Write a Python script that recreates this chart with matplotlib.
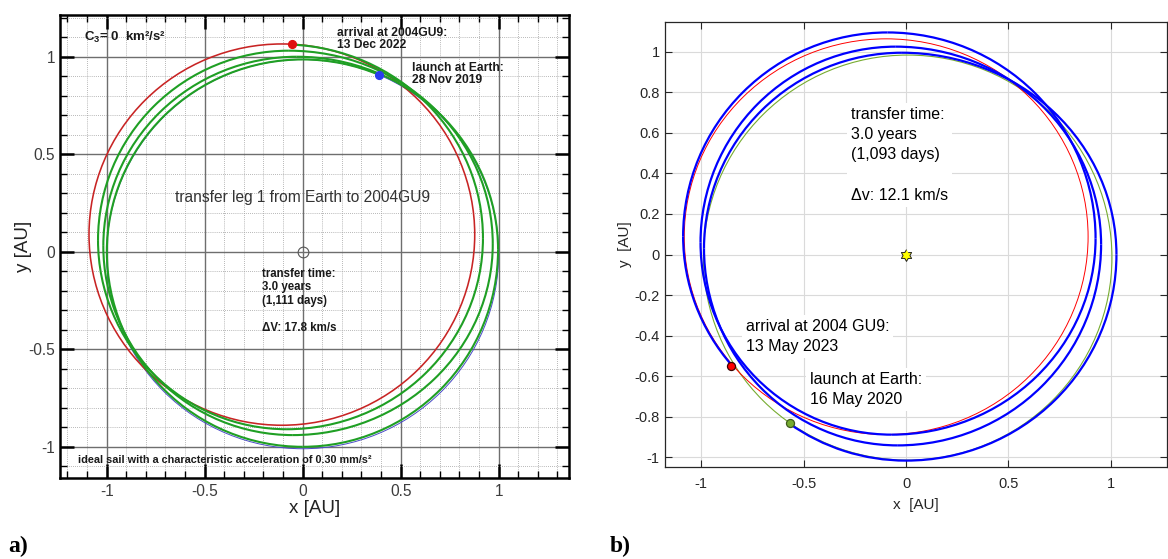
import numpy as np
import matplotlib
matplotlib.use("Agg")
import matplotlib.pyplot as plt
from matplotlib.patches import Arc, Ellipse
from matplotlib.ticker import FixedLocator, FixedFormatter, MultipleLocator
from matplotlib import font_manager

plt.rcParams['font.family'] = ['Liberation Sans', 'DejaVu Sans']
plt.rcParams['mathtext.fontset'] = 'custom'
plt.rcParams['mathtext.rm'] = 'Liberation Sans:bold'
plt.rcParams['mathtext.it'] = 'Liberation Sans:bold:italic'
plt.rcParams['mathtext.bf'] = 'Liberation Sans:bold'

# ======================= data : panel a) =======================
a_ticks = [-1, -0.5, 0, 0.5, 1]
a_ticklabels = ['-1', '-0.5', '0', '0.5', '1']
# orbits: centre x, centre y, width, height  [AU]
a_earth_orbit = [0.000, -0.012, 2.000, 1.996]
a_gu9_orbit = [-0.106, 0.088, 1.968, 1.955]
# transfer trajectory: successive extreme points (right, top, left, bottom, ...)
a_traj_x = [1.000, 0.000, -0.999, 0.000, 0.997, -0.030, -1.017, -0.050,
            0.970, -0.070, -1.044, -0.080, 0.920, -0.100]
a_traj_y = [-0.010, 0.986, 0.000, -1.000, 0.010, 1.000, 0.030, -0.940,
            0.040, 1.031, 0.060, -0.910, 0.070, 1.063]
a_launch = [0.392, 0.908]
a_arrival = [-0.055, 1.065]
a_sun = [0.0, 0.0]
a_title = 'transfer leg 1 from Earth to 2004GU9'
a_c3 = 'C$_3$= 0  km²/s²'
a_arrival_txt = 'arrival at 2004GU9:\n13 Dec 2022'
a_launch_txt = 'launch at Earth:\n28 Nov 2019'
a_info_txt = 'transfer time:\n3.0 years\n(1,111 days)\n\nΔV: 17.8 km/s'
a_sail_txt = 'ideal sail with a characteristic acceleration of 0.30 mm/s²'

# ======================= data : panel b) =======================
b_xticks = [-1, -0.5, 0, 0.5, 1]
b_xticklabels = ['-1', '-0.5', '0', '0.5', '1']
b_yticks = [-1, -0.8, -0.6, -0.4, -0.2, 0, 0.2, 0.4, 0.6, 0.8, 1]
b_yticklabels = ['-1', '-0.8', '-0.6', '-0.4', '-0.2', '0', '0.2', '0.4', '0.6', '0.8', '1']
b_earth_orbit = [0.008, -0.015, 1.996, 1.997]
b_gu9_orbit = [-0.097, 0.088, 1.973, 1.951]
# transfer trajectory: successive extreme points (left, bottom, right, top, ...)
b_traj_x = [-0.990, 0.000, 1.028, -0.020, -0.987, -0.040, 0.953, -0.050,
            -1.004, -0.070, 0.926, -0.090, -1.089, -0.100]
b_traj_y = [-0.015, -1.016, 0.000, 0.995, 0.030, -0.941, 0.050, 1.025,
            0.060, -0.888, 0.080, 1.095, 0.090, -0.888]
b_launch = [-0.569, -0.831]
b_arrival = [-0.856, -0.552]
b_sun = [0.0, 0.0]
b_info_txt = 'transfer time:\n3.0 years\n(1,093 days)\n\nΔv: 12.1 km/s'
b_arrival_txt = 'arrival at 2004 GU9:\n13 May 2023'
b_launch_txt = 'launch at Earth:\n16 May 2020'


def draw_spiral(ax, xs, ys, q0, start, end, **kw):
    """Connect successive extreme points with quarter-ellipse arcs."""
    n = len(xs) - 1
    for i in range(n):
        q = (q0 + i) % 4  # 0 right->top, 1 top->left, 2 left->bottom, 3 bottom->right
        x1, y1, x2, y2 = xs[i], ys[i], xs[i + 1], ys[i + 1]
        if q in (0, 2):
            cx, cy = x2, y1
        else:
            cx, cy = x1, y2
        w = 2 * abs(x1 - x2)
        h = 2 * abs(y1 - y2)
        t1, t2 = 90.0 * q, 90.0 * (q + 1)
        if i == 0:
            t1 = np.degrees(np.arctan2(start[1] - cy, start[0] - cx)) % 360
        if i == n - 1:
            t2 = np.degrees(np.arctan2(end[1] - cy, end[0] - cx)) % 360
        ax.add_patch(Arc((cx, cy), w, h, theta1=t1, theta2=t2, **kw))


fig = plt.figure(figsize=(11.68, 5.59), dpi=100)
fig.patch.set_facecolor('white')

# ======================= panel a) =======================
axa = fig.add_axes([60 / 1168, 1 - 478 / 559, 509 / 1168, 463 / 559])
axa.set_xlim(-1.238, 1.359)
axa.set_ylim(-1.16, 1.214)
for axis in (axa.xaxis, axa.yaxis):
    axis.set_major_locator(FixedLocator(a_ticks))
    axis.set_major_formatter(FixedFormatter(a_ticklabels))
    axis.set_minor_locator(MultipleLocator(0.1))
axa.set_axisbelow(True)
axa.grid(which='major', color='#6e6e6e', lw=1.0, ls='-')
axa.grid(which='minor', color='#a0a0a0', lw=0.6, ls=(0, (1, 1.5)))
axa.tick_params(which='both', direction='in', top=True, right=True, color='black')
axa.tick_params(which='major', length=10, width=1.8, labelsize=11.2, labelcolor='#3c3c3c')
axa.tick_params(axis='x', which='major', pad=4)
axa.tick_params(axis='y', which='major', pad=3.6)
axa.tick_params(which='minor', length=5, width=1.0)
for s in axa.spines.values():
    s.set_linewidth(1.8)
    s.set_color('black')

axa.add_patch(Ellipse(a_earth_orbit[:2], a_earth_orbit[2], a_earth_orbit[3],
                      fill=False, ec='#4a4ac8', lw=0.7, zorder=2))
axa.add_patch(Ellipse(a_gu9_orbit[:2], a_gu9_orbit[2], a_gu9_orbit[3],
                      fill=False, ec='#c82424', lw=1.15, zorder=2.2))
draw_spiral(axa, a_traj_x, a_traj_y, 0, a_launch, a_arrival,
            color='#1f9f24', lw=1.5, zorder=2.5)
axa.plot(a_sun[0], a_sun[1], 'o', mfc='none', mec='#555555', mew=0.8, ms=7.7, zorder=4)
axa.plot(a_arrival[0], a_arrival[1], 'o', color='#e01010', ms=5.6, zorder=4)
axa.plot(a_launch[0], a_launch[1], 'o', color='#2a3cf0', ms=5.6, zorder=4)

axa.text(-1.117, 1.079, a_c3, fontsize=9.5, fontweight='bold', color='#1a1a1a', va='baseline')
axa.text(0.177, 1.150, a_arrival_txt, fontsize=8.7, fontweight='bold', color='#1a1a1a',
         va='top', linespacing=0.98)
axa.text(0.559, 0.971, a_launch_txt, fontsize=8.7, fontweight='bold', color='#1a1a1a',
         va='top', linespacing=0.98)
axa.text(0.0, 0.256, a_title, fontsize=11.2, color='#333333', ha='center', va='baseline')
axa.text(-0.206, -0.082, a_info_txt, fontsize=8.3, fontweight='bold', color='#1a1a1a',
         va='top', linespacing=1.17)
try:
    font_manager.findfont(font_manager.FontProperties(family='Liberation Sans Narrow',
                                                      weight='bold'),
                          fallback_to_default=False)
    sail_family, sail_size = ['Liberation Sans Narrow'], 9.4
except Exception:
    sail_family, sail_size = ['Liberation Sans'], 7.8
axa.text(-1.147, -1.085, a_sail_txt, family=sail_family, fontsize=sail_size,
         fontweight='bold', color='#1a1a1a', va='baseline')

axa.set_xlabel('x [AU]', fontsize=13.5, color='#222222')
axa.set_ylabel('y [AU]', fontsize=13.5, color='#222222')
axa.xaxis.set_label_coords(0.5, -0.0474)
axa.yaxis.set_label_coords(-0.0548, 0.5)

# ======================= panel b) =======================
axb = fig.add_axes([664.5 / 1168, 1 - 467.3 / 559, 502.5 / 1168, 445.6 / 559])
axb.set_xlim(-1.18, 1.275)
axb.set_ylim(-1.049, 1.148)
axb.xaxis.set_major_locator(FixedLocator(b_xticks))
axb.xaxis.set_major_formatter(FixedFormatter(b_xticklabels))
axb.yaxis.set_major_locator(FixedLocator(b_yticks))
axb.yaxis.set_major_formatter(FixedFormatter(b_yticklabels))
axb.set_axisbelow(True)
axb.grid(color='#dadada', lw=0.8)
axb.tick_params(direction='in', top=True, right=True, length=5, width=0.8,
                color='#262626', labelcolor='#262626', labelsize=10.5)
axb.tick_params(axis='x', pad=7)
axb.tick_params(axis='y', pad=3.5)
for s in axb.spines.values():
    s.set_linewidth(0.9)
    s.set_color('#262626')

axb.add_patch(Ellipse(b_earth_orbit[:2], b_earth_orbit[2], b_earth_orbit[3],
                      fill=False, ec='#77ac30', lw=0.8, zorder=2))
axb.add_patch(Ellipse(b_gu9_orbit[:2], b_gu9_orbit[2], b_gu9_orbit[3],
                      fill=False, ec='#ff0000', lw=0.7, zorder=2.1))
draw_spiral(axb, b_traj_x, b_traj_y, 2, b_launch, b_arrival,
            color='#0000ff', lw=1.6, zorder=2.5)

hex_verts = []
for k in range(6):
    ao = np.deg2rad(90 + 60 * k)
    ai = np.deg2rad(120 + 60 * k)
    hex_verts.append((np.cos(ao), np.sin(ao)))
    hex_verts.append((0.577 * np.cos(ai), 0.577 * np.sin(ai)))
axb.plot(b_sun[0], b_sun[1], marker=hex_verts, ms=8.5, mfc='#ffff00', mec='#222222',
         mew=0.7, ls='none', zorder=4)
axb.plot(b_arrival[0], b_arrival[1], 'o', mfc='#ff0000', mec='#3a0000', mew=0.9,
         ms=5.8, zorder=4)
axb.plot(b_launch[0], b_launch[1], 'o', mfc='#77ac30', mec='#3f5a1c', mew=0.9,
         ms=5.8, zorder=4)

box = dict(facecolor='white', edgecolor='none', boxstyle='square,pad=0.25')
axb.text(-0.269, 0.728, b_info_txt, fontsize=11.5, color='black', va='top',
         linespacing=1.43, bbox=box, zorder=5)
axb.text(-0.784, -0.316, b_arrival_txt, fontsize=11.5, color='black', va='top',
         linespacing=1.43, bbox=box, zorder=5)
axb.text(-0.471, -0.578, b_launch_txt, fontsize=11.5, color='black', va='top',
         linespacing=1.43, bbox=box, zorder=5)

axb.set_xlabel('x  [AU]', fontsize=11, color='#262626')
axb.set_ylabel('y  [AU]', fontsize=11, color='#262626')
axb.xaxis.set_label_coords(0.5, -0.0685)
axb.yaxis.set_label_coords(-0.0643, 0.5)

# panel letters
fig.text(8 / 1168, 1 - 546.7 / 559, 'a)', family=['Liberation Serif'], fontweight='bold',
         fontsize=17, va='center', ha='left')
fig.text(610 / 1168, 1 - 546.7 / 559, 'b)', family=['Liberation Serif'], fontweight='bold',
         fontsize=17, va='center', ha='left')

fig.savefig('out.png', dpi=100, facecolor='white')
